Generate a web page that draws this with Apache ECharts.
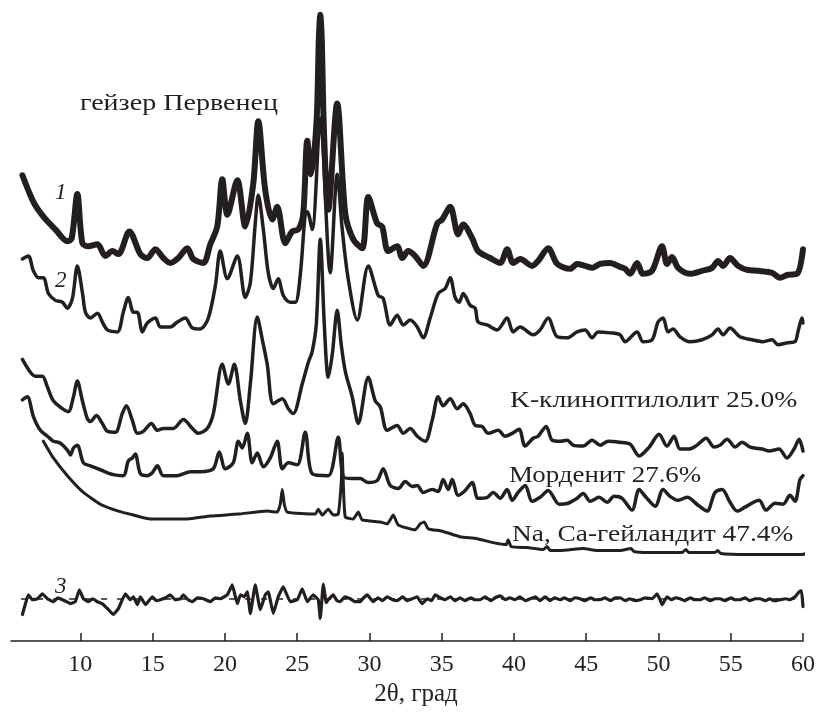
<!DOCTYPE html>
<html>
<head>
<meta charset="utf-8">
<script src="https://cdn.jsdelivr.net/npm/echarts@6/dist/echarts.min.js"></script>
<style>
  html, body { margin: 0; padding: 0; background: #fff; }
  #chart { width: 824px; height: 712px; }
</style>
</head>
<body>
<div id="chart"></div>
<script>
// 2θ tick labels
const ticks2theta = [10, 15, 20, 25, 30, 35, 40, 45, 50, 55, 60]

// кривая 1 — образец (2θ, интенсивность, отн. ед.)
const curve1 = [
  [5.99, 473], [6.75, 446], [7.44, 431], [8.27, 418], [9.10, 406], [9.40, 409], [9.79, 454],
  [10.14, 404], [10.55, 401], [11.18, 403], [11.73, 391], [12.21, 396], [12.63, 393], [13.39, 416],
  [14.15, 393], [14.63, 389], [15.19, 398], [15.74, 389], [16.22, 384], [16.78, 389], [17.40, 399],
  [17.81, 388], [18.51, 384], [18.99, 403], [19.47, 421], [19.82, 469], [20.17, 433], [20.86, 468],
  [21.41, 421], [21.96, 464], [22.31, 528], [22.79, 458], [23.28, 428], [23.62, 441], [24.18, 404],
  [24.66, 416], [25.08, 418], [25.42, 434], [25.70, 508], [25.98, 474], [26.35, 530], [26.50, 612],
  [26.60, 636], [26.70, 612], [26.85, 520], [27.15, 438], [27.77, 546], [28.33, 434], [28.88, 408],
  [29.50, 399], [29.92, 451], [30.54, 424], [30.88, 421], [31.30, 396], [31.92, 401], [32.27, 389],
  [32.68, 396], [33.17, 391], [33.72, 381], [34.69, 424], [35.03, 428], [35.59, 441], [36.14, 413],
  [36.49, 423], [37.11, 409], [37.52, 396], [38.35, 389], [39.05, 384], [39.53, 398], [39.94, 384],
  [40.43, 388], [41.26, 381], [41.67, 386], [42.37, 399], [42.99, 383], [43.89, 378], [44.37, 383],
  [44.92, 381], [45.41, 379], [45.96, 383], [46.65, 384], [47.34, 380], [47.69, 378], [48.04, 373],
  [48.52, 384], [48.93, 373], [49.56, 376], [50.25, 401], [50.59, 383], [50.94, 390], [51.36, 379],
  [52.18, 373], [53.02, 376], [53.71, 379], [54.12, 386], [54.47, 381], [54.95, 389], [55.51, 381],
  [56.13, 377], [56.89, 376], [57.86, 374], [58.41, 369], [58.96, 372], [59.59, 373], [60.0, 398]
]

// кривая 2 — расчётная
const curve2 = [
  [5.99, 388], [6.40, 391], [6.75, 376], [7.10, 369], [7.44, 369], [7.79, 353], [8.27, 346],
  [8.76, 344], [9.10, 338], [9.45, 348], [9.79, 381], [10.14, 354], [10.35, 334], [10.69, 328],
  [11.18, 333], [11.52, 324], [11.87, 316], [12.56, 314], [12.97, 334], [13.32, 349], [13.67, 334],
  [13.94, 334], [14.29, 314], [14.63, 323], [15.19, 328], [15.53, 319], [16.22, 319], [16.71, 324],
  [17.26, 328], [17.75, 318], [18.30, 317], [18.85, 328], [19.34, 361], [19.68, 396], [20.17, 368],
  [20.86, 391], [21.41, 349], [21.76, 364], [22.10, 424], [22.31, 453], [22.66, 418], [23.00, 374],
  [23.35, 358], [23.69, 368], [24.04, 351], [24.52, 344], [24.87, 344], [25.21, 371], [25.56, 434],
  [25.70, 436], [26.04, 418], [26.60, 531], [27.29, 374], [27.77, 474], [28.12, 418], [28.53, 368],
  [29.16, 326], [29.92, 381], [30.61, 351], [30.95, 348], [31.44, 321], [31.92, 331], [32.34, 321],
  [32.82, 326], [33.31, 319], [33.72, 308], [34.20, 328], [34.76, 353], [35.24, 358], [35.59, 369],
  [35.93, 349], [36.21, 344], [36.49, 353], [36.97, 341], [37.32, 338], [37.52, 324], [38.15, 321],
  [38.84, 316], [39.53, 328], [39.94, 314], [40.43, 319], [41.33, 311], [41.81, 316], [42.37, 328],
  [42.99, 309], [43.68, 308], [44.37, 314], [44.92, 316], [45.41, 308], [45.82, 314], [46.65, 313],
  [47.34, 311], [47.69, 304], [48.52, 314], [48.93, 304], [49.56, 306], [49.97, 324], [50.32, 328],
  [50.66, 314], [51.01, 317], [51.49, 309], [52.18, 304], [53.02, 306], [53.71, 311], [54.12, 317],
  [54.47, 311], [54.95, 318], [55.64, 309], [56.47, 306], [57.23, 304], [57.86, 306], [58.27, 301],
  [58.96, 303], [59.45, 304], [59.65, 314], [59.93, 328], [60.0, 323]
]

// K-клиноптилолит
const clino = [
  [5.99, 286], [6.54, 273], [6.89, 269], [7.37, 269], [7.72, 258], [8.13, 244], [8.76, 236],
  [9.17, 233], [9.52, 248], [9.79, 264], [10.14, 244], [10.48, 226], [10.69, 223], [11.11, 229],
  [11.52, 221], [11.87, 213], [12.42, 212], [12.90, 231], [13.18, 239], [13.60, 224], [13.94, 211],
  [14.36, 213], [14.91, 221], [15.33, 214], [15.74, 216], [16.43, 216], [17.12, 225], [17.75, 216],
  [18.16, 211], [18.78, 216], [19.20, 231], [19.82, 281], [20.24, 261], [20.65, 281], [21.07, 244],
  [21.41, 221], [21.76, 261], [22.24, 329], [22.59, 306], [22.93, 281], [23.35, 241], [23.97, 246],
  [24.39, 236], [24.73, 231], [25.35, 261], [25.77, 283], [26.04, 294], [26.32, 321], [26.60, 408],
  [26.88, 321], [27.15, 268], [27.43, 291], [27.77, 336], [28.05, 301], [28.33, 274], [28.81, 248],
  [29.23, 221], [29.92, 268], [30.40, 244], [30.75, 238], [31.23, 214], [31.92, 219], [32.34, 211],
  [32.82, 216], [33.31, 208], [33.86, 203], [34.34, 224], [34.76, 248], [35.10, 239], [35.59, 246],
  [36.07, 236], [36.49, 241], [36.97, 231], [37.32, 219], [37.80, 218], [38.22, 211], [38.91, 214],
  [39.39, 208], [39.88, 211], [40.36, 215], [40.77, 198], [41.33, 206], [41.67, 208], [42.23, 218],
  [42.64, 204], [43.20, 203], [43.68, 204], [44.09, 199], [44.79, 198], [45.41, 204], [45.96, 199],
  [46.52, 203], [47.28, 202], [48.04, 200], [48.66, 188], [49.36, 197], [50.04, 210], [50.59, 198],
  [51.08, 208], [51.49, 195], [52.12, 195], [52.67, 199], [53.30, 206], [53.85, 197], [54.26, 199],
  [54.75, 205], [55.30, 197], [55.78, 202], [56.34, 197], [57.17, 195], [57.65, 193], [58.34, 195],
  [58.89, 186], [59.38, 195], [59.73, 205], [60.0, 193]
]

// Морденит
const mordenite = [
  [5.99, 245], [6.33, 248], [6.75, 228], [7.23, 214], [7.72, 208], [8.13, 203], [8.62, 201],
  [9.10, 194], [9.31, 189], [9.52, 196], [9.79, 199], [10.21, 181], [10.69, 178], [11.38, 174],
  [12.28, 169], [12.97, 168], [13.32, 183], [13.60, 186], [13.80, 190], [14.15, 170], [14.63, 168],
  [14.98, 171], [15.33, 178], [15.74, 168], [16.71, 168], [17.61, 172], [18.30, 172], [19.20, 175],
  [19.61, 192], [20.03, 175], [20.58, 181], [20.93, 203], [21.20, 196], [21.55, 211], [21.89, 181],
  [22.24, 191], [22.66, 177], [23.14, 186], [23.62, 203], [23.97, 175], [24.39, 181], [25.01, 179],
  [25.56, 212], [26.04, 170], [27.15, 168], [27.84, 207], [28.19, 167], [28.81, 165], [29.36, 165],
  [29.92, 161], [30.54, 163], [30.95, 175], [31.44, 158], [31.99, 155], [32.48, 162], [32.96, 157],
  [33.31, 158], [33.72, 151], [34.34, 154], [34.76, 152], [35.10, 164], [35.45, 154], [35.73, 164],
  [36.14, 148], [36.63, 153], [37.11, 161], [37.52, 145], [38.15, 146], [38.56, 151], [39.05, 145],
  [39.53, 154], [39.88, 143], [40.29, 151], [40.78, 158], [41.26, 142], [41.81, 146], [42.37, 153],
  [43.13, 139], [43.75, 140], [44.37, 145], [44.79, 150], [45.27, 142], [45.89, 146], [46.45, 141],
  [46.93, 147], [47.48, 145], [48.17, 133], [48.66, 154], [49.14, 146], [49.77, 137], [50.32, 154],
  [50.80, 147], [51.36, 143], [51.98, 146], [52.74, 138], [53.36, 132], [53.91, 151], [54.40, 154],
  [54.95, 141], [55.44, 132], [55.99, 136], [56.96, 143], [57.44, 133], [58.07, 140], [58.62, 139],
  [59.10, 148], [59.45, 142], [59.79, 164], [60.0, 168]
]

// Na, Ca-гейландит
const heulandite = [
  [7.44, 203], [8.13, 186], [9.10, 168], [10.21, 151], [11.38, 139], [12.63, 132], [13.67, 128],
  [14.84, 124], [16.02, 124], [17.40, 124], [18.99, 127], [20.93, 129], [22.93, 132], [23.62, 131],
  [23.83, 139], [23.97, 154], [24.11, 139], [24.32, 131], [26.25, 129], [26.46, 134], [26.74, 128],
  [27.15, 134], [27.50, 128], [27.84, 129], [28.05, 161], [28.12, 191], [28.19, 161], [28.33, 126],
  [28.88, 124], [29.23, 131], [29.50, 123], [30.75, 121], [31.23, 119], [31.65, 128], [31.99, 118],
  [33.17, 113], [33.51, 119], [33.79, 121], [34.07, 114], [34.90, 112], [35.38, 110], [36.28, 106],
  [37.45, 104], [38.56, 100], [39.46, 98], [39.60, 103], [39.81, 96], [40.91, 95], [42.02, 93],
  [42.30, 96], [42.50, 92], [43.20, 92], [44.79, 94], [45.75, 92], [47.34, 92], [48.10, 94],
  [48.30, 91], [49.28, 90], [51.63, 90], [51.90, 93], [52.10, 90], [53.91, 90], [54.10, 92],
  [54.30, 89], [56.20, 88], [58.55, 88], [59.93, 88], [60.83, 92], [61.45, 98]
]

// кривая 3 — разностная
const curve3 = [
  [5.99, 27], [6.20, 38], [6.40, 47], [6.68, 42], [7.03, 43], [7.37, 48], [7.72, 43], [8.13, 40],
  [8.45, 44], [8.76, 42], [9.05, 40], [9.31, 38], [9.65, 40], [9.93, 52], [10.21, 43], [10.55, 40],
  [10.85, 43], [11.18, 40], [11.52, 38], [11.94, 32], [12.28, 27], [12.63, 33], [13.11, 48],
  [13.46, 42], [13.67, 45], [13.94, 37], [14.15, 45], [14.50, 37], [14.98, 45], [15.25, 41],
  [15.53, 42], [15.90, 44], [16.22, 47], [16.55, 42], [16.92, 43], [17.12, 47], [17.45, 42],
  [17.75, 40], [18.10, 44], [18.51, 43], [18.99, 40], [19.35, 44], [19.68, 43], [20.17, 47],
  [20.51, 57], [20.86, 38], [21.07, 47], [21.34, 45], [21.55, 50], [21.76, 28], [22.10, 57],
  [22.45, 32], [22.79, 47], [23.00, 50], [23.35, 28], [23.69, 45], [24.04, 55], [24.52, 40],
  [25.01, 42], [25.35, 53], [25.70, 40], [26.11, 47], [26.46, 42], [26.60, 23], [26.81, 58],
  [27.01, 39], [27.15, 42], [27.50, 47], [27.75, 41], [27.98, 40], [28.30, 45], [28.67, 43],
  [29.00, 40], [29.36, 40], [29.60, 44], [29.85, 47], [30.26, 40], [30.60, 44], [30.90, 41],
  [31.23, 45], [31.60, 42], [31.92, 41], [32.30, 45], [32.60, 41], [32.96, 43], [33.30, 45],
  [33.65, 38], [34.00, 43], [34.30, 41], [34.55, 47], [34.90, 44], [35.24, 42], [35.60, 45],
  [35.90, 41], [36.28, 44], [36.60, 41], [37.00, 44], [37.30, 42], [37.66, 42], [38.00, 45],
  [38.40, 41], [38.70, 44], [39.05, 46], [39.40, 42], [39.70, 44], [40.08, 42], [40.40, 45],
  [40.80, 41], [41.12, 43], [41.50, 45], [41.80, 41], [42.16, 45], [42.50, 41], [42.80, 44],
  [43.20, 42], [43.50, 44], [43.90, 41], [44.20, 44], [44.58, 43], [44.90, 41], [45.30, 44],
  [45.60, 42], [45.96, 42], [46.30, 44], [46.70, 41], [47.00, 44], [47.34, 44], [47.70, 41],
  [48.00, 43], [48.40, 41], [48.73, 42], [49.10, 44], [49.56, 43], [49.90, 48], [50.11, 42],
  [50.25, 37], [50.59, 45], [50.90, 42], [51.20, 44], [51.49, 43], [51.80, 41], [52.20, 44],
  [52.50, 42], [52.88, 42], [53.20, 44], [53.60, 41], [53.90, 43], [54.26, 43], [54.60, 41],
  [55.00, 44], [55.30, 42], [55.64, 42], [56.00, 44], [56.30, 41], [56.70, 43], [57.03, 43],
  [57.40, 41], [57.70, 43], [58.00, 41], [58.41, 42], [58.80, 43], [59.10, 42], [59.45, 45],
  [59.73, 50], [59.90, 51], [60.0, 35]
]
const diffBaseline = 43

const ink = '#231f20'
const serif = '"Liberation Serif", "DejaVu Serif", serif'

const chart = echarts.init(document.getElementById('chart'), null, { renderer: 'canvas' })

const lineSeries = (name, data, width, extra) => Object.assign({
  name,
  type: 'line',
  data,
  showSymbol: false,
  symbol: 'none',
  smooth: 0.3,
  animation: false,
  lineStyle: { color: ink, width, join: 'round', cap: 'round' }
}, extra || {})

// подписи — шрифт немного растянут по ширине, как в оригинале
const label = (text, x, y, scaleX, italic) => ({
  type: 'text',
  x,
  y,
  scaleX,
  style: {
    text,
    font: (italic ? 'italic ' : '') + '23px ' + serif,
    fill: ink,
    verticalAlign: 'top'
  }
})

const option = {
  animation: false,
  grid: { left: 11, right: 21, top: 0, bottom: 61 },
  xAxis: {
    type: 'value',
    min: 5.2,
    max: 60,
    name: '2θ, град',
    nameLocation: 'middle',
    nameGap: 36,
    nameTextStyle: { fontFamily: serif, fontSize: 25, color: ink, padding: [0, 0, 0, 18] },
    axisLine: { lineStyle: { color: ink, width: 1.5 } },
    axisTick: { inside: true, length: 8, customValues: ticks2theta, lineStyle: { color: ink, width: 1.5 } },
    axisLabel: { customValues: ticks2theta, margin: 12, fontFamily: serif, fontSize: 24, color: ink },
    splitLine: { show: false }
  },
  yAxis: { type: 'value', min: 0, max: 651, show: false },
  series: [
    lineSeries('3', curve3, 3.2, {
      smooth: 0.1,
      markLine: {
        silent: true,
        symbol: 'none',
        label: { show: false },
        lineStyle: { color: ink, width: 1.5, type: [6, 10] },
        data: [[{ coord: [5.9, diffBaseline] }, { coord: [60, diffBaseline] }]]
      }
    }),
    lineSeries('Na, Ca-гейландит', heulandite, 3, { clip: false, smooth: 0.15 }),
    lineSeries('Морденит', mordenite, 3.5),
    lineSeries('K-клиноптилолит', clino, 3.5),
    lineSeries('2', curve2, 3.5),
    lineSeries('1', curve1, 6)
  ],
  graphic: [
    label('гейзер Первенец', 80, 92, 1.22),
    label('1', 55, 181, 1, true),
    label('2', 55, 269, 1, true),
    label('3', 55, 575, 1, true),
    label('K-клиноптилолит 25.0%', 510, 389, 1.2),
    label('Морденит 27.6%', 509, 464, 1.17),
    label('Na, Ca-гейландит 47.4%', 512, 523, 1.19)
  ]
}

chart.setOption(option)
</script>
</body>
</html>
